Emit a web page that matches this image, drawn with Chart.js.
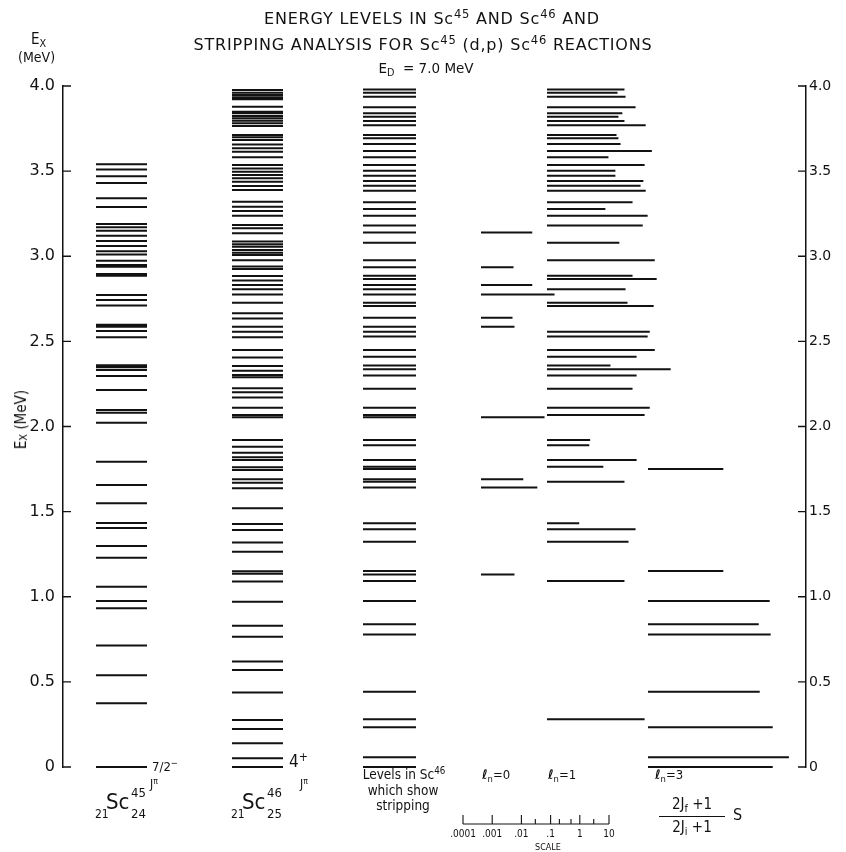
<!DOCTYPE html>
<html>
<head>
<meta charset="utf-8">
<script src="https://cdn.jsdelivr.net/npm/chart.js@4.4.0/dist/chart.umd.min.js"></script>
<style>
  html, body { margin: 0; padding: 0; background: #fff; }
  #wrap { position: relative; width: 846px; height: 852px; overflow: hidden;
          font-family: "DejaVu Sans Condensed", "DejaVu Sans", sans-serif; color: #121212; }
  #chart { position: absolute; left: 0; top: 0; }
  .t { position: absolute; white-space: nowrap; line-height: 1; }
  .c { transform: translateX(-50%); }
  .title { font-family: "DejaVu Sans", sans-serif; font-size: 16px; letter-spacing: 0.8px; }
  .sup { font-size: 0.72em; position: relative; top: -0.5em; }
  .sub { font-size: 0.72em; position: relative; top: 0.3em; }
  .vert { writing-mode: vertical-rl; transform: rotate(180deg); }
  .vsub { font-size: 0.72em; vertical-align: -0.3em; }
  .nuc { position: absolute; width: 70px; height: 34px; }
  .nuc span { position: absolute; line-height: 1; }
</style>
</head>
<body>
<div id="wrap">
  <canvas id="chart" width="846" height="852"></canvas>

  <div class="t c title" style="left:432px; top:11px">ENERGY LEVELS IN Sc<span class="sup">45</span> AND Sc<span class="sup">46</span> AND</div>
  <div class="t c title" style="left:423px; top:37px">STRIPPING ANALYSIS FOR Sc<span class="sup">45</span> (d,p) Sc<span class="sup">46</span> REACTIONS</div>
  <div class="t c" style="left:426px; top:62px; font-family:'DejaVu Sans',sans-serif; font-size:13.5px">E<span class="sub">D</span> &nbsp;= 7.0 MeV</div>

  <div class="t" style="left:31px; top:32px; font-size:15px">E<span class="sub">X</span></div>
  <div class="t" style="left:18px; top:50px; font-size:14px">(MeV)</div>
  <div class="t vert" style="left:14px; top:390px; font-size:15px">E<span class="vsub">X</span> (MeV)</div>

  <div class="t" style="left:152px; top:760px; font-size:13px">7/2<span class="sup">&minus;</span></div>
  <div class="t" style="left:150px; top:778px; font-size:12px">J<span class="sup">&pi;</span></div>
  <div class="nuc" style="left:95px; top:786px">
    <span style="left:0; top:22px; font-size:12px">21</span>
    <span style="left:11px; top:5px; font-size:22px">Sc</span>
    <span style="left:36px; top:0; font-size:13px">45</span>
    <span style="left:36px; top:21px; font-size:13px">24</span>
  </div>

  <div class="t" style="left:289px; top:753px; font-size:17px">4<span class="sup">+</span></div>
  <div class="t" style="left:300px; top:778px; font-size:12px">J<span class="sup">&pi;</span></div>
  <div class="nuc" style="left:231px; top:786px">
    <span style="left:0; top:22px; font-size:12px">21</span>
    <span style="left:11px; top:5px; font-size:22px">Sc</span>
    <span style="left:36px; top:0; font-size:13px">46</span>
    <span style="left:36px; top:21px; font-size:13px">25</span>
  </div>

  <div class="t c" style="left:404px; top:768px; font-size:13.5px">Levels in Sc<span class="sup">46</span></div>
  <div class="t c" style="left:403px; top:784px; font-size:13.5px">which show</div>
  <div class="t c" style="left:403px; top:799px; font-size:13.5px">stripping</div>

  <div class="t" style="left:482px; top:768px; font-size:13px"><i><b>&#8467;</b></i><span class="sub">n</span>=0</div>
  <div class="t" style="left:548px; top:768px; font-size:13px"><i><b>&#8467;</b></i><span class="sub">n</span>=1</div>
  <div class="t" style="left:655px; top:768px; font-size:13px"><i><b>&#8467;</b></i><span class="sub">n</span>=3</div>

  <div class="t c" style="left:692px; top:797px; font-size:15px">2J<span class="sub">f</span> +1</div>
  <div style="position:absolute; left:659px; top:816px; width:66px; height:1.3px; background:#121212"></div>
  <div class="t c" style="left:692px; top:820px; font-size:15px">2J<span class="sub">i</span> +1</div>
  <div class="t" style="left:733px; top:807px; font-size:16px">S</div>

  <div class="t c" style="left:548px; top:843px; font-size:9px">SCALE</div>
</div>

<script>
// excitation energies (MeV)
const sc45Levels = [0, 0.374, 0.539, 0.713, 0.932, 0.975, 1.059, 1.229, 1.298, 1.404, 1.433,
  1.549, 1.656, 1.793, 2.022, 2.081, 2.097, 2.214, 2.297, 2.332, 2.348, 2.36, 2.524, 2.561,
  2.586, 2.598, 2.71, 2.743, 2.772, 2.886, 2.896, 2.939, 2.949, 2.974, 3.01, 3.03, 3.06, 3.09,
  3.12, 3.15, 3.17, 3.19, 3.29, 3.34, 3.43, 3.47, 3.51, 3.54];

const sc46Levels = [0, 0.051, 0.139, 0.223, 0.276, 0.437, 0.570, 0.619, 0.765, 0.830, 0.971,
  1.089, 1.135, 1.15, 1.265, 1.318, 1.392, 1.427, 1.520, 1.637, 1.670, 1.690, 1.744, 1.760,
  1.803, 1.819, 1.846, 1.881, 1.921, 2.054, 2.068, 2.110, 2.171, 2.201, 2.224, 2.289, 2.302,
  2.328, 2.355, 2.406, 2.449, 2.524, 2.557, 2.586, 2.635, 2.665, 2.727, 2.776, 2.806, 2.831,
  2.857, 2.884, 2.925, 2.94, 2.976, 3.007, 3.021, 3.037, 3.056, 3.070, 3.086, 3.135, 3.164,
  3.184, 3.238, 3.266, 3.291, 3.320, 3.389, 3.413, 3.438, 3.458, 3.477, 3.497, 3.516, 3.536,
  3.581, 3.614, 3.634, 3.657, 3.683, 3.699, 3.712, 3.765, 3.781, 3.796, 3.810, 3.824, 3.840,
  3.849, 3.878, 3.922, 3.934, 3.947, 3.961, 3.977];

// stripping levels and (2Jf+1)/(2Ji+1) S for each l transfer
const l0Energy = [3.139, 2.935, 2.831, 2.776, 2.639, 2.586, 2.054, 1.690, 1.641, 1.131];
const l0Strength = [0.0057, 0.0013, 0.0057, 0.033, 0.0012, 0.0014, 0.015, 0.0028, 0.0085, 0.0014];

const l1Energy = [3.980, 3.961, 3.937, 3.875, 3.840, 3.820, 3.794, 3.769, 3.712, 3.693, 3.659,
  3.618, 3.581, 3.536, 3.502, 3.473, 3.442, 3.414, 3.385, 3.317, 3.278, 3.238, 3.180, 3.080,
  2.976, 2.886, 2.866, 2.806, 2.727, 2.708, 2.557, 2.528, 2.449, 2.410, 2.359, 2.336, 2.299,
  2.222, 2.110, 2.068, 1.921, 1.890, 1.803, 1.764, 1.676, 1.431, 1.396, 1.323, 1.093, 0.280];
const l1Strength = [0.045, 0.026, 0.049, 0.108, 0.038, 0.028, 0.045, 0.24, 0.024, 0.028, 0.033,
  0.39, 0.0127, 0.22, 0.022, 0.022, 0.20, 0.16, 0.24, 0.085, 0.010, 0.28, 0.19, 0.030,
  0.49, 0.085, 0.57, 0.049, 0.057, 0.45, 0.33, 0.28, 0.49, 0.117, 0.0149, 1.72, 0.117,
  0.085, 0.33, 0.22, 0.0030, 0.0028, 0.117, 0.0085, 0.045, 0.00127, 0.108, 0.062, 0.045, 0.22];

const l3Energy = [1.750, 1.151, 0.975, 0.838, 0.779, 0.442, 0.233, 0.057, 0];
const l3Strength = [0.038, 0.038, 1.47, 0.62, 1.59, 0.67, 1.87, 6.7, 1.87];

const yTicks = [0, 0.5, 1.0, 1.5, 2.0, 2.5, 3.0, 3.5, 4.0];
const scaleMajor = [0.0001, 0.001, 0.01, 0.1, 1, 10];
const scaleMajorLabels = [".0001", ".001", ".01", ".1", "1", "10"];
const scaleMinor = [0.03, 0.2, 0.5, 3];

// layout of the columns (horizontal units of the x scale)
const X_MIN = 63, X_MAX = 806;
const COL_SC45 = [96, 147];
const COL_SC46 = [232, 283];
const COL_STRIP = [363, 416];
const START_L0 = 481, START_L1 = 547, START_L3 = 648;
const SCALE_X0 = 463, DECADE = 29.2, S_MIN = 0.0001;
const INK = "#121212";

const strengthLen = s => DECADE * Math.log10(s / S_MIN);

// the Sc46 levels which show stripping = all levels in the l columns
const stripLevels = [...new Set([...l0Energy, ...l1Energy, ...l3Energy])];

function segments(energies, x0, endFn) {
    const pts = [];
    energies.forEach((e, i) => {
        const x1 = endFn(i);
        pts.push({ x: x0, y: e }, { x: x1, y: e }, { x: x1, y: null });
    });
    return pts;
}

function levelSet(data) {
    return {
        data: data,
        showLine: true,
        spanGaps: false,
        clip: false,
        borderColor: INK,
        borderWidth: 2,
        pointRadius: 0,
        pointHoverRadius: 0,
        yAxisID: "y"
    };
}

const datasets = [
    levelSet(segments(sc45Levels, COL_SC45[0], () => COL_SC45[1])),
    levelSet(segments(sc46Levels, COL_SC46[0], () => COL_SC46[1])),
    levelSet(segments(stripLevels, COL_STRIP[0], () => COL_STRIP[1])),
    levelSet(segments(l0Energy, START_L0, i => START_L0 + strengthLen(l0Strength[i]))),
    levelSet(segments(l1Energy, START_L1, i => START_L1 + strengthLen(l1Strength[i]))),
    levelSet(segments(l3Energy, START_L3, i => START_L3 + strengthLen(l3Strength[i])))
];

const tickLabel = v => (v === 0 ? "0" : v.toFixed(1));

function energyAxis(position, width, size, pad) {
    return {
        type: "linear",
        position: position,
        min: 0,
        max: 4,
        afterBuildTicks: scale => { scale.ticks = yTicks.map(v => ({ value: v })); },
        afterFit: scale => { scale.width = width; },
        ticks: {
            callback: tickLabel,
            color: INK,
            padding: pad,
            font: { family: "DejaVu Sans", size: size }
        },
        grid: { drawOnChartArea: false, drawTicks: false },
        border: { color: INK, width: 1.5 }
    };
}

// inward tick marks on both axes and the strength scale bar under the l columns
const decorations = {
    id: "decorations",
    afterDraw(chart) {
        const ctx = chart.ctx;
        const yl = chart.scales.y, yr = chart.scales.y2, xs = chart.scales.x;
        ctx.save();
        ctx.strokeStyle = INK;
        ctx.lineWidth = 1.4;
        yTicks.forEach(v => {
            const py = yl.getPixelForValue(v);
            ctx.beginPath();
            ctx.moveTo(yl.right, py);
            ctx.lineTo(yl.right + 8, py);
            ctx.moveTo(yr.left, py);
            ctx.lineTo(yr.left - 8, py);
            ctx.stroke();
        });

        const barY = 824;
        const px = v => xs.getPixelForValue(SCALE_X0 + strengthLen(v));
        ctx.lineWidth = 1.1;
        ctx.beginPath();
        ctx.moveTo(px(scaleMajor[0]), barY);
        ctx.lineTo(px(scaleMajor[scaleMajor.length - 1]), barY);
        scaleMajor.forEach(v => { ctx.moveTo(px(v), barY); ctx.lineTo(px(v), barY - 9); });
        scaleMinor.forEach(v => { ctx.moveTo(px(v), barY); ctx.lineTo(px(v), barY - 5); });
        ctx.stroke();
        ctx.restore();
    }
};

const chart = new Chart(document.getElementById("chart").getContext("2d"), {
    type: "scatter",
    data: { datasets: datasets },
    options: {
        responsive: false,
        animation: false,
        events: [],
        layout: { padding: { top: 86, bottom: 85, left: 0, right: 0 } },
        plugins: { legend: { display: false }, tooltip: { enabled: false } },
        scales: {
            x: { type: "linear", min: X_MIN, max: X_MAX, display: false },
            y: energyAxis("left", 63, 16, 8),
            y2: energyAxis("right", 40, 14, 3)
        }
    },
    plugins: [decorations]
});

// scale bar labels placed through the same x scale
const wrap = document.getElementById("wrap");
scaleMajor.forEach((v, i) => {
    const el = document.createElement("div");
    el.className = "t c";
    el.style.left = chart.scales.x.getPixelForValue(SCALE_X0 + strengthLen(v)) + "px";
    el.style.top = "829px";
    el.style.fontSize = "10px";
    el.textContent = scaleMajorLabels[i];
    wrap.appendChild(el);
});
</script>
</body>
</html>
